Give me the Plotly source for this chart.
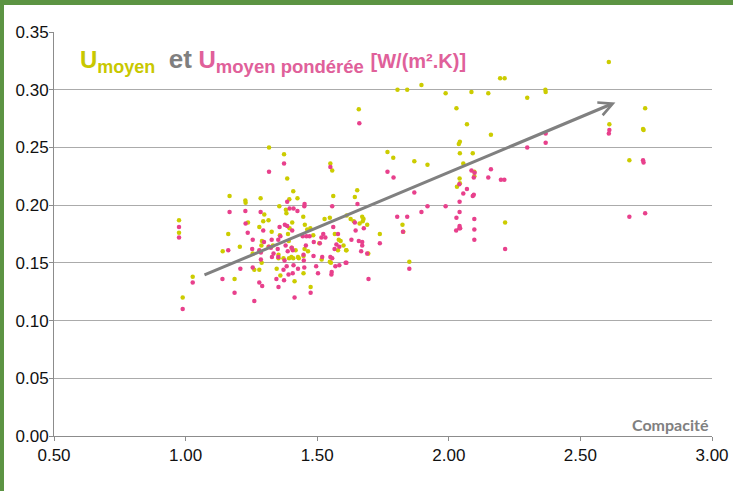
import plotly.graph_objects as go

# Umoyen (yellow) series
umoy_x = [0.975, 0.975, 0.989, 1.027, 1.317, 1.374, 1.386, 1.167, 1.227, 1.228, 1.285, 1.299, 1.409, 1.425,
          1.394, 1.356, 1.381, 1.383, 1.237, 1.315, 1.295, 1.405, 1.395, 1.280, 1.327, 1.358, 1.389, 1.162,
          1.290, 1.288, 1.315, 1.392, 1.206, 1.141, 1.255, 1.403, 1.418, 1.332, 1.353, 1.353, 1.372, 1.393,
          1.402, 1.409, 1.427, 1.346, 1.360, 1.448, 1.414, 1.186, 1.261, 1.280, 1.475, 1.289, 1.447, 1.453,
          1.462, 1.474, 1.485, 1.508, 1.452, 1.465, 1.430, 1.448, 1.517, 1.548, 1.552, 1.579, 1.610, 1.600,
          1.589, 1.567, 1.528, 1.548, 1.550, 1.557, 1.561, 1.612, 1.643, 1.652, 1.627, 1.639, 1.671, 1.676,
          1.673, 1.690, 1.661, 1.611, 1.694, 1.582, 1.658, 1.896, 1.805, 1.842, 1.988, 2.086, 2.150, 2.195,
          2.212, 2.298, 2.367, 2.368, 2.029, 2.069, 2.160, 2.038, 2.042, 2.042, 1.767, 1.789, 1.869, 1.919,
          2.091, 2.055, 2.097, 2.097, 2.041, 2.042, 2.031, 1.824, 1.827, 1.850, 2.214, 1.738, 2.608, 2.746,
          2.610, 2.738, 2.740, 2.686]
umoy_y = [0.187, 0.176, 0.120, 0.138, 0.250, 0.244, 0.223, 0.208, 0.204, 0.202, 0.206, 0.192, 0.212, 0.206,
          0.205, 0.199, 0.196, 0.193, 0.185, 0.187, 0.186, 0.185, 0.180, 0.181, 0.177, 0.174, 0.175, 0.175,
          0.169, 0.165, 0.164, 0.169, 0.164, 0.160, 0.158, 0.163, 0.161, 0.165, 0.154, 0.157, 0.154, 0.154,
          0.155, 0.154, 0.155, 0.145, 0.139, 0.141, 0.134, 0.136, 0.144, 0.144, 0.129, 0.150, 0.190, 0.183,
          0.179, 0.180, 0.174, 0.167, 0.162, 0.160, 0.154, 0.156, 0.153, 0.151, 0.150, 0.161, 0.161, 0.165,
          0.169, 0.175, 0.188, 0.189, 0.236, 0.230, 0.208, 0.191, 0.207, 0.213, 0.188, 0.186, 0.190, 0.188,
          0.186, 0.183, 0.184, 0.161, 0.158, 0.170, 0.283, 0.304, 0.300, 0.300, 0.297, 0.298, 0.297, 0.310,
          0.310, 0.293, 0.300, 0.298, 0.284, 0.270, 0.261, 0.253, 0.255, 0.245, 0.246, 0.241, 0.238, 0.235,
          0.245, 0.236, 0.229, 0.225, 0.223, 0.219, 0.216, 0.183, 0.177, 0.151, 0.185, 0.175, 0.324, 0.284,
          0.270, 0.266, 0.265, 0.239]

# Umoyen pondérée (pink) series
upond_x = [0.975, 0.975, 0.989, 1.027, 1.374, 1.317, 1.167, 1.227, 1.285, 1.386, 1.395, 1.410, 1.425, 1.228,
           1.357, 1.377, 1.386, 1.405, 1.295, 1.236, 1.255, 1.298, 1.327, 1.352, 1.360, 1.162, 1.253, 1.280,
           1.286, 1.324, 1.350, 1.380, 1.388, 1.407, 1.403, 1.317, 1.334, 1.352, 1.328, 1.376, 1.384, 1.410,
           1.451, 1.449, 1.448, 1.427, 1.407, 1.391, 1.372, 1.255, 1.208, 1.280, 1.291, 1.345, 1.374, 1.353,
           1.414, 1.261, 1.140, 1.186, 1.475, 1.286, 1.452, 1.451, 1.445, 1.459, 1.471, 1.457, 1.486, 1.496,
           1.503, 1.519, 1.550, 1.555, 1.554, 1.569, 1.584, 1.608, 1.550, 1.557, 1.561, 1.579, 1.573, 1.584,
           1.566, 1.557, 1.523, 1.531, 1.510, 1.516, 1.487, 1.653, 1.643, 1.677, 1.658, 1.671, 1.671, 1.667,
           1.690, 1.630, 1.611, 1.646, 1.738, 1.695, 1.660, 2.368, 2.368, 2.298, 1.767, 1.790, 2.086, 2.098,
           2.095, 2.160, 2.150, 2.198, 2.211, 2.040, 2.069, 2.055, 2.041, 2.091, 2.095, 1.869, 1.919, 1.988,
           1.896, 1.804, 1.842, 2.041, 2.029, 2.041, 2.040, 2.028, 2.043, 2.097, 2.097, 2.097, 1.826, 1.850,
           2.214, 2.610, 2.608, 2.738, 2.740, 2.686, 2.746]
upond_y = [0.181, 0.172, 0.110, 0.133, 0.236, 0.229, 0.194, 0.195, 0.194, 0.203, 0.197, 0.197, 0.195, 0.184,
           0.181, 0.183, 0.182, 0.178, 0.178, 0.176, 0.170, 0.168, 0.170, 0.170, 0.173, 0.161, 0.162, 0.161,
           0.159, 0.163, 0.162, 0.165, 0.160, 0.161, 0.163, 0.164, 0.158, 0.155, 0.155, 0.152, 0.147, 0.148,
           0.146, 0.152, 0.157, 0.145, 0.141, 0.140, 0.144, 0.146, 0.145, 0.133, 0.130, 0.136, 0.135, 0.129,
           0.120, 0.117, 0.136, 0.124, 0.124, 0.153, 0.201, 0.199, 0.173, 0.173, 0.173, 0.165, 0.156, 0.147,
           0.141, 0.155, 0.155, 0.142, 0.140, 0.147, 0.148, 0.150, 0.233, 0.199, 0.181, 0.175, 0.166, 0.164,
           0.162, 0.154, 0.175, 0.172, 0.167, 0.172, 0.168, 0.201, 0.185, 0.180, 0.169, 0.168, 0.165, 0.160,
           0.158, 0.170, 0.150, 0.178, 0.167, 0.136, 0.271, 0.262, 0.254, 0.250, 0.229, 0.224, 0.230, 0.228,
           0.224, 0.231, 0.224, 0.222, 0.222, 0.218, 0.214, 0.210, 0.203, 0.208, 0.209, 0.211, 0.199, 0.199,
           0.194, 0.190, 0.190, 0.194, 0.189, 0.182, 0.180, 0.178, 0.180, 0.188, 0.179, 0.170, 0.177, 0.145,
           0.162, 0.265, 0.262, 0.239, 0.237, 0.190, 0.193]

# trend arrow (tail -> head) in data units
arrow_tail = (1.066, 0.139)
arrow_head = (2.633, 0.289)

x_ticks = [0.5, 1.0, 1.5, 2.0, 2.5, 3.0]
y_ticks = [0.0, 0.05, 0.10, 0.15, 0.20, 0.25, 0.30, 0.35]

YEL = "#cccc00"
PINK = "#e8408c"
GREEN = "#5c9443"
FONT = "Arial, Liberation Sans, sans-serif"

fig = go.Figure()
fig.add_trace(go.Scatter(x=umoy_x, y=umoy_y, mode="markers", name="Umoyen",
                         marker=dict(color=YEL, size=4.5, line=dict(width=0))))
fig.add_trace(go.Scatter(x=upond_x, y=upond_y, mode="markers", name="Umoyen pondérée",
                         marker=dict(color=PINK, size=4.5, line=dict(width=0))))

fig.update_layout(
    width=733, height=491,
    margin=dict(l=54, r=21, t=32, b=55),
    paper_bgcolor="white", plot_bgcolor="white",
    showlegend=False,
    font=dict(family=FONT, size=17, color="#111111"),
    xaxis=dict(range=[0.5, 3.0], tickvals=x_ticks, ticktext=[f"{v:.2f}" for v in x_ticks],
               automargin=False,
               showgrid=False, zeroline=False, showline=True, linecolor="#8c8c8c", linewidth=1,
               ticks="outside", ticklen=4, tickcolor="#8c8c8c", tickfont=dict(size=17, color="#111111")),
    yaxis=dict(range=[0, 0.35], tickvals=y_ticks, ticktext=[f"{v:.2f}" for v in y_ticks],
               automargin=False,
               showgrid=True, gridcolor="#ababab", gridwidth=1, zeroline=False, showline=True,
               linecolor="#8c8c8c", linewidth=1, ticks="outside", ticklen=4, tickcolor="#8c8c8c",
               ticklabelstandoff=-3,
               tickfont=dict(size=17, color="#111111")),
)

# green frame strips (left and top)
fig.add_shape(type="rect", xref="paper", yref="paper", x0=-0.085, x1=(4 - 54) / 658, y0=-0.15, y1=1.085,
              fillcolor=GREEN, line=dict(width=0), layer="above")
fig.add_shape(type="rect", xref="paper", yref="paper", x0=-0.085, x1=1.04, y0=1 + (32 - 5) / 404, y1=1.085,
              fillcolor=GREEN, line=dict(width=0), layer="above")

# arrow
fig.add_annotation(x=arrow_head[0], y=arrow_head[1], ax=arrow_tail[0], ay=arrow_tail[1],
                   xref="x", yref="y", axref="x", ayref="y", text="", showarrow=True,
                   arrowhead=5, arrowsize=0.9, arrowwidth=3, arrowcolor="#808080")

title = ("<b><span style='color:#c8c800'>U<sub><span style='font-size:18px'>moyen</span></sub></span>&nbsp;&nbsp;"
         "<span style='color:#7f7f7f;font-size:26px'>et</span>&nbsp;"
         "<span style='color:#e0609a'>U<sub><span style='font-size:18.5px'>moyen pondérée</span></sub></span>&nbsp;"
         "<span style='color:#e0609a;font-size:20px'>[W/(m².K)]</span></b>")
fig.add_annotation(xref="paper", yref="paper", x=(78 - 54) / 658, y=1 + (32 - 42) / 404,
                   xanchor="left", yanchor="top", text=title, showarrow=False,
                   font=dict(family=FONT, size=24))

fig.add_annotation(xref="paper", yref="paper", x=1, y=0, xanchor="right", yanchor="bottom",
                   xshift=-1, yshift=0, text="<b>Compacité</b>", showarrow=False,
                   font=dict(family="Lato, Open Sans, sans-serif", size=16, color="#808080"))

fig.write_html("out.html", config={"displayModeBar": False},
               post_script="document.body.style.margin='0px';document.body.style.overflow='hidden';")
